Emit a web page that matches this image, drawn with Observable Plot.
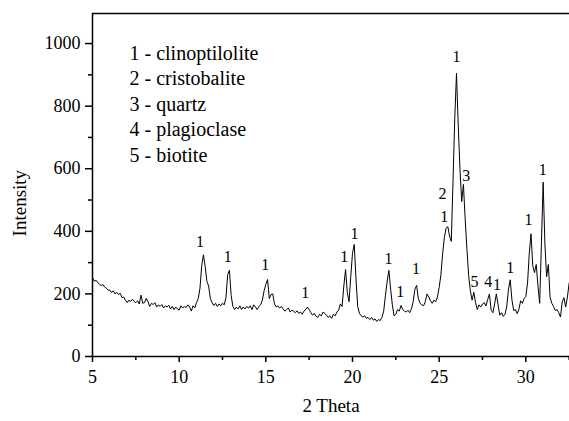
<!DOCTYPE html>
<html><head><meta charset="utf-8">
<script src="https://cdn.jsdelivr.net/npm/d3@7"></script>
<script src="https://cdn.jsdelivr.net/npm/@observablehq/plot@0.6"></script>
<style>
html,body{margin:0;padding:0;background:#fff;font-family:'Liberation Serif';}
#chart svg{display:block;}
</style>
</head><body><div id="chart"></div>
<script>
// XRD scan: start angle and step (instrument sampling grid), intensities
const scanStart = 5.0;
const scanStep = 0.1;
const intensity = [
  252, 240, 244, 236, 232, 226, 230, 222, 218, 212,   // 5
  212, 204, 210, 200, 205, 198, 202, 188, 190, 180,   // 6
  172, 180, 176, 183, 176, 172, 178, 168, 196, 170,   // 7
  172, 186, 175, 160, 170, 166, 172, 158, 165, 160,   // 8
  166, 155, 162, 158, 164, 152, 160, 150, 158, 152,   // 9
  148, 162, 155, 160, 156, 165, 158, 145, 162, 155,   // 10
  172, 185, 218, 290, 325, 288, 240, 225, 185, 172,   // 11
  163, 170, 160, 168, 162, 170, 165, 188, 262, 276,   // 12
  195, 160, 150, 158, 152, 162, 150, 158, 152, 160,   // 13
  155, 162, 150, 165, 158, 150, 160, 165, 180, 210,   // 14
  230, 246, 185, 198, 200, 168, 158, 162, 155, 160,   // 15
  152, 145, 150, 155, 142, 148, 145, 140, 146, 138,   // 16
  142, 135, 145, 150, 158, 150, 140, 132, 138, 128,   // 17
  125, 135, 130, 142, 138, 132, 125, 130, 122, 135,   // 18
  130, 142, 148, 168, 160, 225, 278, 205, 175, 255,   // 19
  330, 358, 250, 160, 138, 130, 126, 130, 122, 125,   // 20
  118, 125, 116, 120, 112, 118, 115, 125, 145, 195,   // 21
  240, 275, 215, 165, 130, 135, 150, 145, 163, 150,   // 22
  145, 142, 148, 140, 152, 175, 215, 227, 185, 170,   // 23
  165, 162, 175, 200, 190, 178, 170, 180, 175, 190,   // 24
  221, 260, 328, 380, 410, 415, 385, 368, 560, 760,   // 25
  905, 740, 600, 495, 550, 440, 345, 260, 210, 180,   // 26
  205, 172, 150, 165, 158, 168, 172, 162, 182, 200,   // 27
  148, 140, 168, 200, 165, 132, 140, 128, 135, 160,   // 28
  215, 245, 180, 147, 150, 137, 150, 178, 170, 185,   // 29
  192, 235, 330, 392, 290, 268, 294, 225, 170, 360,   // 30
  557, 360, 255, 294, 189, 170, 160, 147, 150, 140,   // 31
  126, 175, 188, 158, 190, 235                        // 32
];

const xMajorTicks = [5, 10, 15, 20, 25, 30];
const xMinorTicks = [7.5, 12.5, 17.5, 22.5, 27.5, 32.5];
const yMajorTicks = [0, 200, 400, 600, 800, 1000];
const yMinorTicks = [100, 300, 500, 700, 900];

const peakLabelText = ["1", "1", "1", "1", "1", "1", "1", "1", "1", "1", "2", "1", "3", "5", "4", "1", "1", "1", "1", "1"];
const peakLabelX = [11.2, 12.8, 14.97, 17.27, 19.52, 20.12, 22.08, 22.75, 23.66, 25.29, 25.2, 26.0, 26.57, 27.04, 27.83, 28.33, 29.1, 30.16, 30.97, 32.66];
const peakLabelY = [365, 317, 294, 202, 317, 393, 313, 205, 281, 445, 520, 956, 578, 237, 237, 230, 283, 435, 596, 450];

const legendLines = ["1 - clinoptilolite", "2 - cristobalite", "3 - quartz", "4 - plagioclase", "5 - biotite"];
const xTitle = "2 Theta";
const yTitle = "Intensity";

const scan = intensity.map((v, i) => ({theta: +(scanStart + i * scanStep).toFixed(2), intensity: v}));
const peaks = peakLabelText.map((t, i) => ({text: t, x: peakLabelX[i], y: peakLabelY[i]}));

const font = "Liberation Serif";
const yTop = 1096;

const chart = Plot.plot({
  width: 569, height: 421,
  marginLeft: 92, marginRight: 0, marginTop: 13, marginBottom: 65,
  style: {fontFamily: font, background: "#fff"},
  x: {domain: [5, 32.52]},
  y: {domain: [0, yTop]},
  marks: [
    Plot.axisX({ticks: xMajorTicks, tickSize: 6, tickPadding: 8, fontSize: 18, fontFamily: font, label: null, strokeWidth: 1.5}),
    Plot.axisX({ticks: xMinorTicks, tickSize: 4, tickFormat: () => "", label: null, strokeWidth: 1.5}),
    Plot.axisY({ticks: yMajorTicks, tickSize: 7, tickPadding: 5, fontSize: 18, fontFamily: font, tickFormat: d => String(d), label: null, strokeWidth: 1.5}),
    Plot.axisY({ticks: yMinorTicks, tickSize: 4, tickFormat: () => "", label: null, strokeWidth: 1.5}),
    Plot.ruleX([5], {strokeWidth: 1.5}),
    Plot.ruleY([0, yTop], {strokeWidth: 1.5}),
    Plot.line(scan, {x: "theta", y: "intensity", stroke: "#000", strokeWidth: 1, clip: true}),
    Plot.text(peaks, {x: "x", y: "y", text: "text", fontSize: 16, fontFamily: font, fill: "#000"}),
    Plot.text([legendLines.join("\n")], {frameAnchor: "top-left", dx: 37, dy: 28, lineAnchor: "top", lineHeight: 1.28, textAnchor: "start", fontSize: 20, fontFamily: font, fill: "#000"}),
    Plot.text([xTitle], {frameAnchor: "bottom", dy: 55, fontSize: 19, fontFamily: font, fill: "#000"}),
    Plot.text([yTitle], {x: 5, y: 490, dx: -73, rotate: -90, fontSize: 19, fontFamily: font, fill: "#000"})
  ]
});
document.getElementById("chart").appendChild(chart);
</script>
</body></html>
